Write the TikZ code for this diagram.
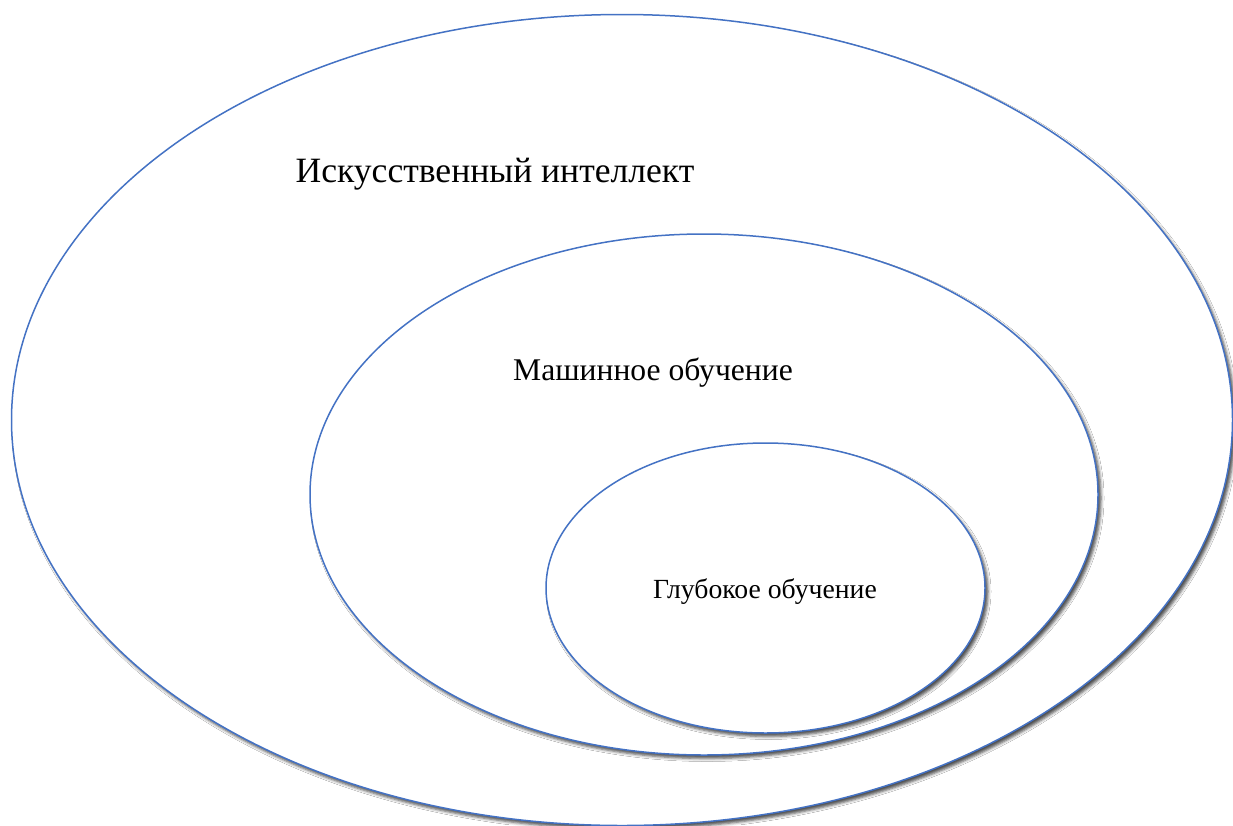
\documentclass[tikz,border=0pt]{standalone}
\usepackage{fontspec}
\setmainfont{Liberation Serif}
\usetikzlibrary{shapes.geometric,shadows.blur}
\definecolor{ringblue}{HTML}{4472C4}
\tikzset{
  ring/.style={ellipse, draw=ringblue, line width=1.5pt, fill=white, inner sep=0pt,
    blur shadow={shadow xshift=3pt, shadow yshift=-3.5pt, shadow blur radius=3pt, shadow opacity=70}},
  lbl/.style={anchor=base, inner sep=0pt, text=black}
}
\begin{document}
\begin{tikzpicture}[x=1pt,y=-1pt]
\useasboundingbox (0,0) rectangle (1233,825);
\clip (0,0) rectangle (1233,825);
\fill[white] (0,0) rectangle (1233,825);
\node[ring, minimum width=1221pt, minimum height=811pt] (ai) at (622,420) {};
\node[ring, minimum width=788pt, minimum height=521pt] (ml) at (704,494.5) {};
\node[ring, minimum width=439pt, minimum height=290pt] (dl) at (765.5,588) {};
\node[lbl, font=\fontsize{35.6}{40}\selectfont] (tai) at (495,182) {Искусственный интеллект};
\node[lbl, font=\fontsize{31.6}{36}\selectfont] (tml) at (653,380) {Машинное обучение};
\node[lbl, font=\fontsize{27.7}{32}\selectfont] (tdl) at (765,598) {Глубокое обучение};
\end{tikzpicture}
\end{document}
